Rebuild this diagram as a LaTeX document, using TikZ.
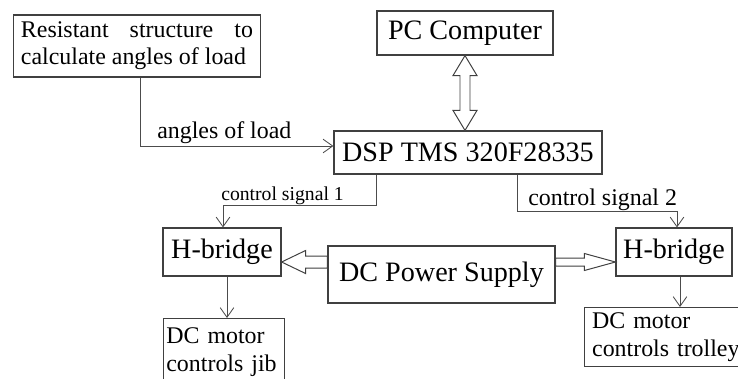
\documentclass[tikz,border=0pt]{standalone}
\usepackage{fontspec}
\setmainfont{Liberation Serif}
\usetikzlibrary{arrows.meta,positioning,calc}

\begin{document}
\begin{tikzpicture}[
  x=0.025cm, y=-0.025cm,
  font=\fontsize{20}{24}\selectfont,
  box/.style={draw=black!75, line width=0.8pt, align=center, inner sep=2pt},
  txt/.style={font=\fontsize{17}{19.4}\selectfont, inner sep=0pt},
  arr/.style={-{Straight Barb[length=2.4mm,width=3.4mm]}, draw=black!70, line width=0.6pt},
  fat/.style={draw=black!75, line width=0.7pt, fill=white, line join=miter}
]
\useasboundingbox (0,0) rectangle (738,378);
\clip (0,0) rectangle (738,378);
% blocks
\node[box, txt, inner xsep=5.4pt, inner ysep=2pt, text width=165pt, align=justify,
      minimum height=1.55cm] (res) at (137,46)
      {Resistant structure to calculate angles of load};
\node[box, minimum width=4.4cm, minimum height=1.1cm] (pc) at (465,33) {PC Computer};
\node[box, minimum width=6.7cm, minimum height=1.075cm] (dsp) at (468,152.5) {DSP TMS 320F28335};
\node[box, minimum width=2.95cm, minimum height=1.2cm] (hb1) at (222,252) {H-bridge};
\node[box, minimum width=5.675cm, minimum height=1.425cm] (ps) at (441.5,274.5) {DC Power Supply};
\node[box, minimum width=2.9cm, minimum height=1.2cm] (hb2) at (674,252) {H-bridge};
\node[box, txt, anchor=north west, align=left, text width=82pt, inner xsep=2pt,
      minimum height=1.675cm] (m1) at (163,318) {DC motor\\controls jib};
\node[box, txt, anchor=north west, align=left, text width=108pt, inner xsep=5.4pt,
      minimum height=1.475cm] (m2) at (584,307) {DC motor\\controls trolley};
% labels
\node[txt, anchor=base west] (lblang) at (157,138) {angles of load};
\node[txt, font=\fontsize{14}{16}\selectfont, anchor=base west] (lblcs1) at (221,200) {control signal 1};
\node[txt, anchor=base west] (lblcs2) at (528,205) {control signal 2};
% signal lines
\draw[arr] ($(res.south)+(3,0)$) |- ($(dsp.west)+(0,-6.5)$);
\draw[arr] ($(dsp.south west)+(43,0)$) |- ($(hb1.north)+(1,-22)$) -- ($(hb1.north)+(1,0)$);
\draw[arr] ($(dsp.south west)+(184,0)$) |- ($(hb2.north)+(3,-16)$) -- ($(hb2.north)+(3,0)$);
\draw[arr] ($(hb1.south)+(5,0)$) coordinate (jibin) -- (jibin |- m1.north);
\draw[arr] ($(hb2.south)+(6,0)$) coordinate (trolin) -- (trolin |- m2.north);
% wide arrows
\coordinate (tipU) at (pc.south);
\coordinate (tipD) at (pc.south |- dsp.north);
\draw[fat] (tipU) -- ++(12,20) -- ++(-7,0) -- ($(tipD)+(5,-20)$) -- ++(7,0) -- (tipD)
  -- ++(-12,-20) -- ++(7,0) -- ($(tipU)+(-5,20)$) -- ++(-7,0) -- cycle;
\coordinate (tipL) at ($(hb1.east)+(0,10)$);
\draw[fat] (tipL) -- ++(24,-11.5) -- ++(0,5.5) -- ($(ps.west|-tipL)+(0,-6)$) -- ++(0,12)
  -- ($(tipL)+(24,6)$) -- ++(0,5.5) -- cycle;
\coordinate (tipR) at ($(hb2.west)+(0,10)$);
\draw[fat] (tipR) -- ++(-31,-8.5) -- ++(0,4.5) -- ($(ps.east|-tipR)+(0,-4)$) -- ++(0,8)
  -- ($(tipR)+(-31,4)$) -- ++(0,4.5) -- cycle;
\end{tikzpicture}
\end{document}
